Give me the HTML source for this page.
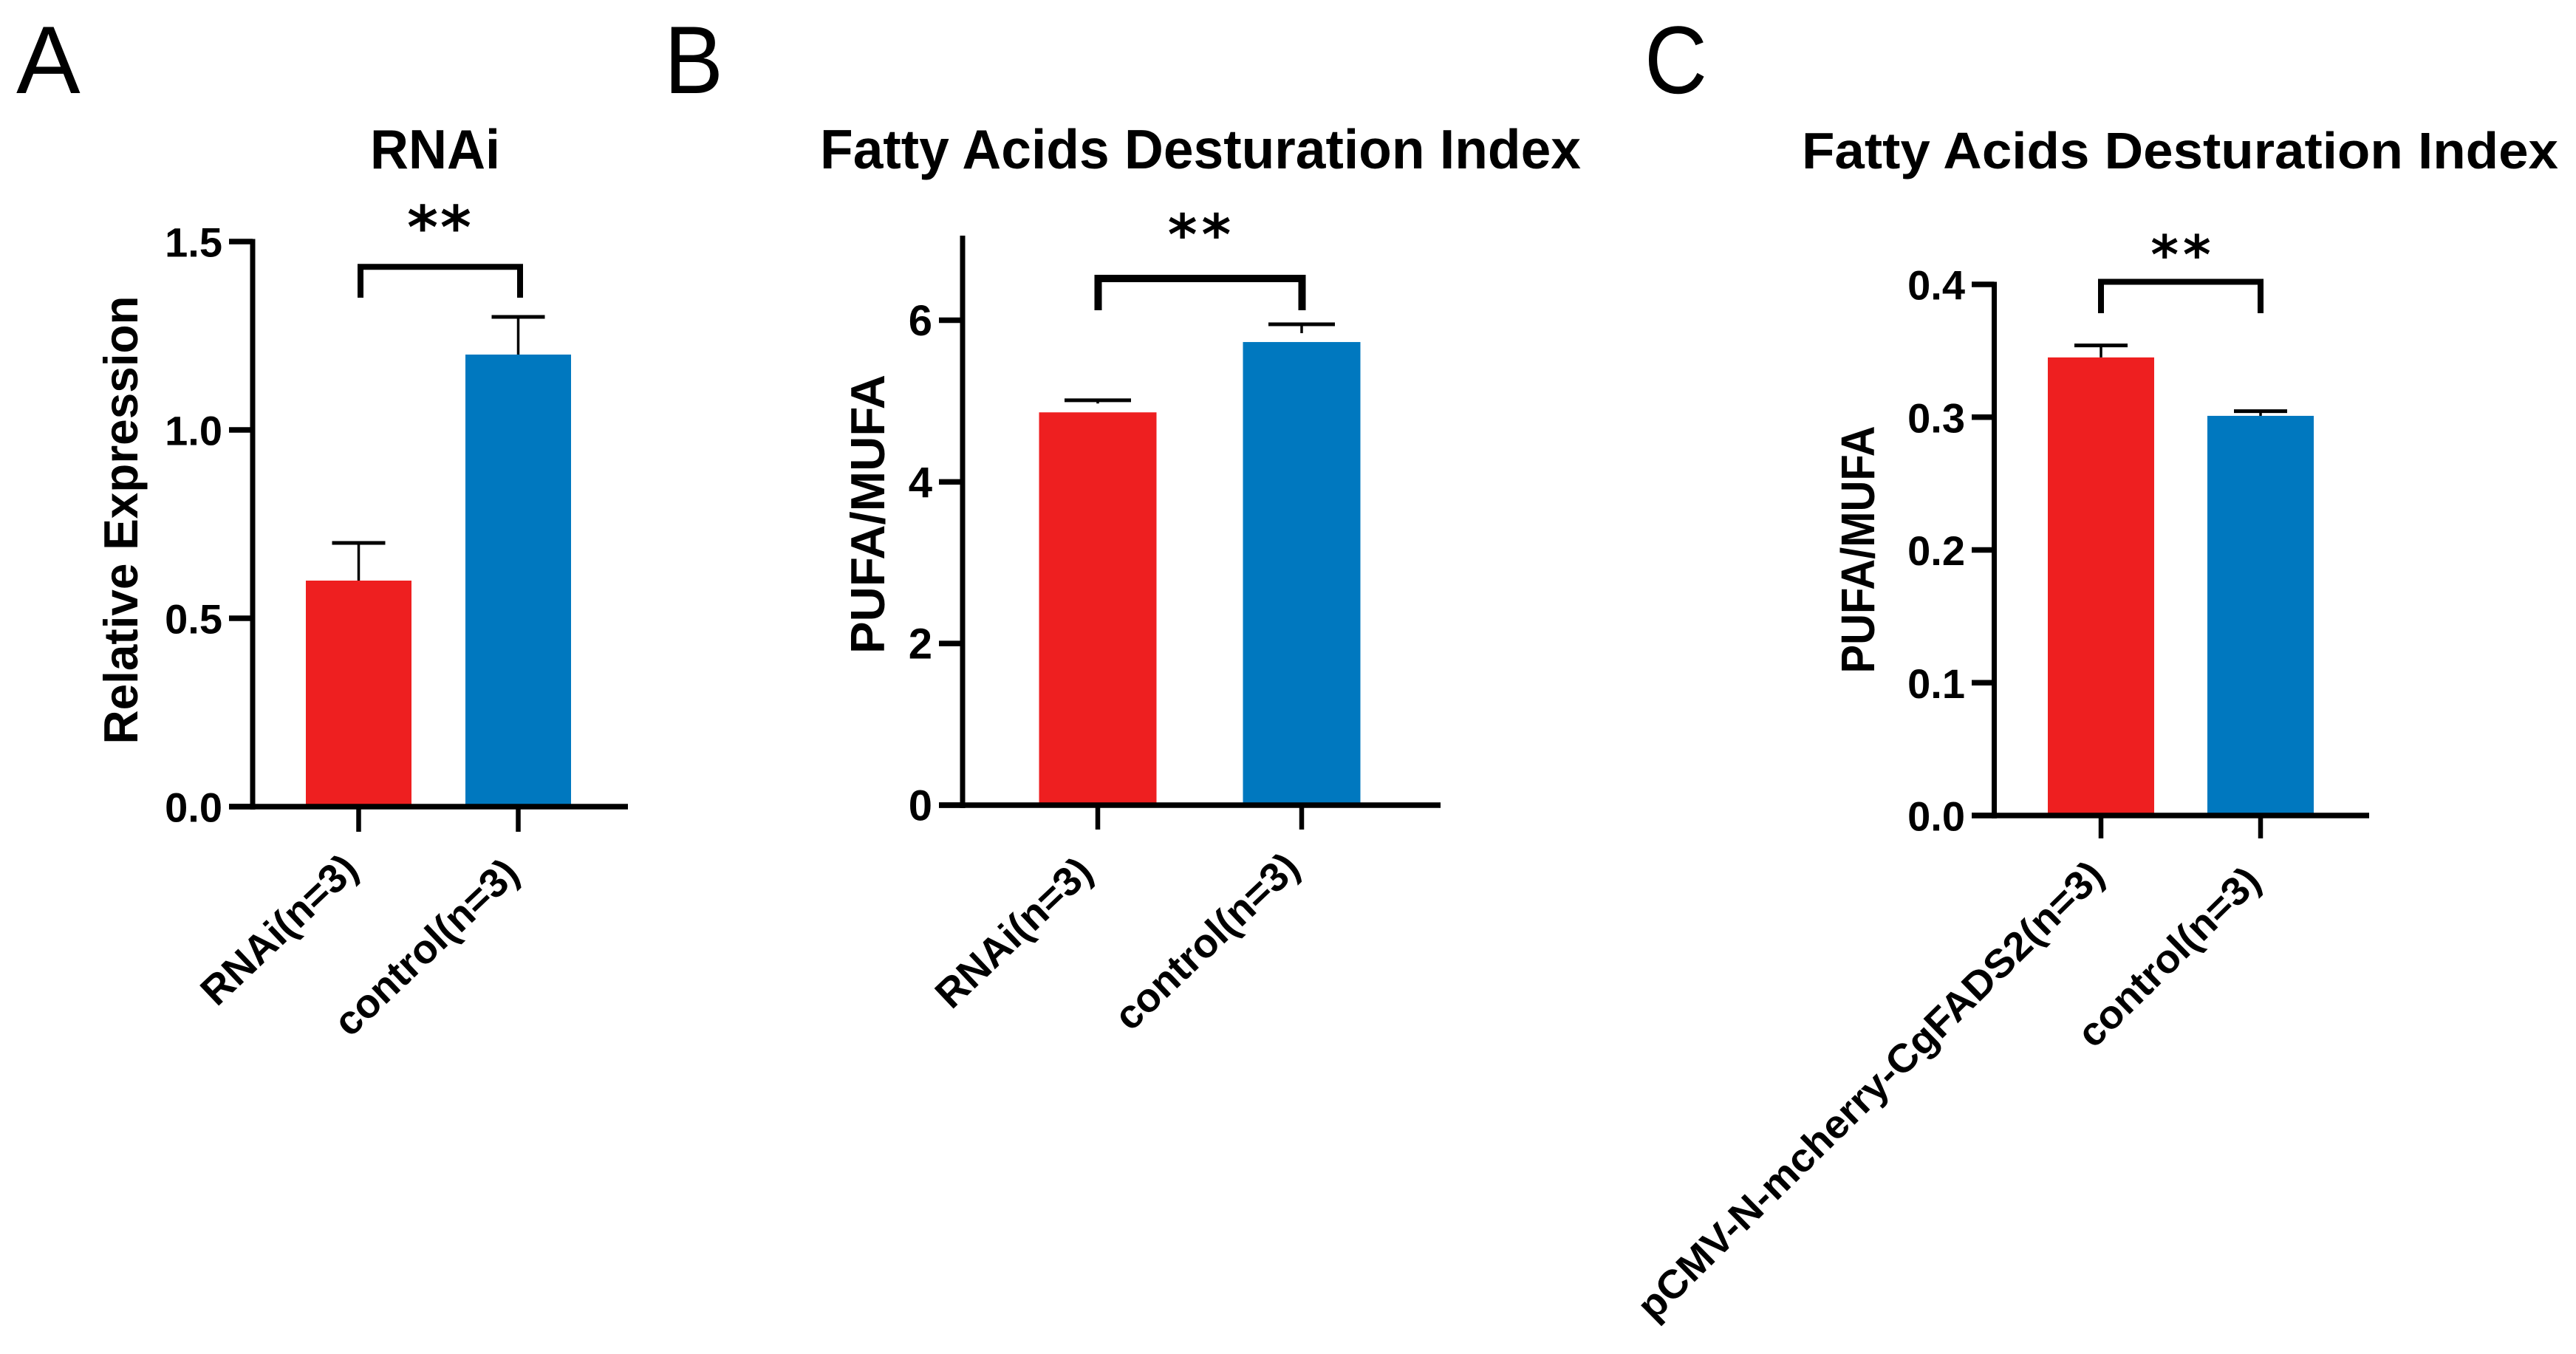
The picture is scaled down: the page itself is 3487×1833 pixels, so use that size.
<!DOCTYPE html>
<html lang="en">
<head>
<meta charset="utf-8">
<title>Fatty acid desaturation panels</title>
<style>
html,body{margin:0;padding:0;background:#fff;width:3487px;height:1833px;overflow:hidden}
svg{display:block}
text{font-family:"Liberation Sans",Arial,sans-serif;fill:#000}
text.star{font-family:"DejaVu Sans",sans-serif}
</style>
</head>
<body>
<svg id="figure" xmlns="http://www.w3.org/2000/svg" width="3487" height="1833" viewBox="0 0 3487 1833">
  <rect width="3487" height="1833" fill="#fff"/>
  <text x="22" y="126" font-size="130">A</text>
  <text x="899" y="126" font-size="130" textLength="80" lengthAdjust="spacingAndGlyphs">B</text>
  <text x="2226" y="126" font-size="130" textLength="85" lengthAdjust="spacingAndGlyphs">C</text>
</svg>
<script>
const panelACategories = ['RNAi(n=3)', 'control(n=3)'];
const panelAValues = [0.6, 1.2];
const panelAErrors = [0.1, 0.1];
const panelATicks = [0, 0.5, 1, 1.5];
const panelATickLabels = ['0.0', '0.5', '1.0', '1.5'];

const panelBCategories = ['RNAi(n=3)', 'control(n=3)'];
const panelBValues = [4.86, 5.73];
const panelBErrors = [0.15, 0.22];
const panelBTicks = [0, 2, 4, 6];
const panelBTickLabels = ['0', '2', '4', '6'];

const panelCCategories = ['pCMV-N-mcherry-CgFADS2(n=3)', 'control(n=3)'];
const panelCValues = [0.345, 0.301];
const panelCErrors = [0.009, 0.0035];
const panelCTicks = [0, 0.1, 0.2, 0.3, 0.4];
const panelCTickLabels = ['0.0', '0.1', '0.2', '0.3', '0.4'];

const barColors = ['#ee1f20', '#0078bf'];
const svgNS = 'http://www.w3.org/2000/svg';
const figure = document.getElementById('figure');

function makeLine(parent, name, x1, y1, x2, y2, width) {
  const el = document.createElementNS(svgNS, 'line');
  
  
  el.setAttribute('x1', x1);
  el.setAttribute('y1', y1);
  el.setAttribute('x2', x2);
  el.setAttribute('y2', y2);
  el.setAttribute('stroke', '#000');
  el.setAttribute('stroke-width', width);
  parent.appendChild(el);
  return el;
}

function makeText(parent, name, str, x, y, size, weight, anchor, rotate, len) {
  const el = document.createElementNS(svgNS, 'text');
  
  
  el.setAttribute('x', x);
  el.setAttribute('y', y);
  el.setAttribute('font-size', size);
  el.setAttribute('font-weight', weight);
  el.setAttribute('text-anchor', anchor);
  if (rotate) el.setAttribute('transform', 'rotate(' + rotate + ' ' + x + ' ' + y + ')');
  if (len) {
    el.setAttribute('textLength', len);
    el.setAttribute('lengthAdjust', 'spacingAndGlyphs');
  }
  el.textContent = str;
  parent.appendChild(el);
  return el;
}

function drawPanel(prefix, categories, values, errors, ticks, tickLabels, view) {
  const g = document.createElementNS(svgNS, 'g');
  
  
  figure.appendChild(g);

  const topTick = ticks[ticks.length - 1];
  const yScale = function (v) { return view.yZero - v * (view.yZero - view.yTopTick) / topTick; };
  const xScale = function (i) { return view.xFirst + i * view.xStep; };

  values.forEach(function (v, i) {
    const bar = document.createElementNS(svgNS, 'rect');
    
    
    bar.setAttribute('x', xScale(i) - view.barWidth / 2);
    bar.setAttribute('y', yScale(v));
    bar.setAttribute('width', view.barWidth);
    bar.setAttribute('height', view.yZero - yScale(v));
    bar.setAttribute('fill', barColors[i]);
    g.appendChild(bar);

    const capY = yScale(v + errors[i]);
    makeLine(g, prefix + '-error-cap-' + (i + 1), xScale(i) - view.capWidth / 2, capY, xScale(i) + view.capWidth / 2, capY, 5);
    makeLine(g, prefix + '-error-stem-' + (i + 1), xScale(i), capY, xScale(i), yScale(v) - view.stemGap, 3.5);
  });

  makeLine(g, prefix + '-y-axis', view.xAxis, view.yAxisTop, view.xAxis, view.yZero + 4, 7);
  makeLine(g, prefix + '-x-axis', view.xTickLeft, view.yZero, view.xRight, view.yZero, 7.5);

  ticks.forEach(function (t, i) {
    const y = yScale(t);
    makeLine(g, prefix + '-y-tick-' + tickLabels[i], view.xTickLeft, y, view.xAxis, y, 7.5);
    makeText(g, prefix + '-y-tick-label-' + tickLabels[i], tickLabels[i], view.xTickText, y + 20.5, view.tickFont, 'bold', 'end');
  });

  categories.forEach(function (c, i) {
    makeLine(g, prefix + '-x-tick-' + (i + 1), xScale(i), view.yZero, xScale(i), view.xTickBottom, 6.5);
    makeText(g, prefix + '-x-label-' + (i + 1), c, xScale(i) + view.labelDx + i * view.labelXStep, view.labelY + i * view.labelYStep, view.labelFont, 'bold', 'end', -view.labelAngle, view.labelLens[i]);
  });

  const br = document.createElementNS(svgNS, 'polyline');
  
  
  const bx0 = xScale(0) + view.bracketShift;
  const bx1 = xScale(1) + view.bracketShift;
  br.setAttribute('points', bx0 + ',' + view.bracketBottom + ' ' + bx0 + ',' + view.bracketY + ' ' + bx1 + ',' + view.bracketY + ' ' + bx1 + ',' + view.bracketBottom);
  br.setAttribute('fill', 'none');
  br.setAttribute('stroke', '#000');
  br.setAttribute('stroke-width', view.bracketWidth);
  g.appendChild(br);

  const stars = makeText(g, prefix + '-significance-stars', '**', (bx0 + bx1) / 2 + view.starDx, view.starY, view.starFont, 'bold', 'middle');
  stars.setAttribute('class', 'star');
  stars.setAttribute('letter-spacing', view.starSpacing);
  makeText(g, prefix + '-title', view.title, view.titleX, 228, view.titleFont, 'bold', 'start', 0, view.titleLen);
  makeText(g, prefix + '-y-axis-title', view.yTitle, view.yTitleX, view.yTitleY, view.yTitleFont, 'bold', 'middle', -90, view.yTitleLen);
}

drawPanel('panel-a', panelACategories, panelAValues, panelAErrors, panelATicks, panelATickLabels, {
  yZero: 1092, yTopTick: 327, yAxisTop: 323.5, xAxis: 342, xTickLeft: 310, xRight: 850, xTickText: 301, tickFont: 56,
  xFirst: 485.5, xStep: 216, barWidth: 143, capWidth: 72, stemGap: 0, xTickBottom: 1126,
  labelDx: 2, labelXStep: 2, labelY: 1180, labelYStep: 6, labelFont: 55, labelAngle: 43.5, labelLens: [0, 0],
  bracketShift: 2.5, bracketY: 361.3, bracketBottom: 403, bracketWidth: 8,
  starDx: 0, starY: 336, starFont: 80, starSpacing: 3,
  title: 'RNAi', titleX: 501, titleLen: 176, titleFont: 75,
  yTitle: 'Relative Expression', yTitleX: 186, yTitleY: 704, yTitleFont: 65, yTitleLen: 607
});

drawPanel('panel-b', panelBCategories, panelBValues, panelBErrors, panelBTicks, panelBTickLabels, {
  yZero: 1090, yTopTick: 433.5, yAxisTop: 319, xAxis: 1303, xTickLeft: 1271, xRight: 1950, xTickText: 1262, tickFont: 58,
  xFirst: 1486, xStep: 276, barWidth: 159, capWidth: 90, stemGap: 12, xTickBottom: 1123,
  labelDx: -4, labelXStep: 4, labelY: 1184, labelYStep: -6, labelFont: 55, labelAngle: 43.5, labelLens: [0, 0],
  bracketShift: 0.5, bracketY: 377, bracketBottom: 420, bracketWidth: 10,
  starDx: 2, starY: 344, starFont: 76, starSpacing: 6,
  title: 'Fatty Acids Desturation Index', titleX: 1110, titleLen: 1030, titleFont: 75,
  yTitle: 'PUFA/MUFA', yTitleX: 1197, yTitleY: 696, yTitleFont: 65, yTitleLen: 378
});

drawPanel('panel-c', panelCCategories, panelCValues, panelCErrors, panelCTicks, panelCTickLabels, {
  yZero: 1104, yTopTick: 385, yAxisTop: 381.5, xAxis: 2699.5, xTickLeft: 2669, xRight: 3207, xTickText: 2660, tickFont: 56,
  xFirst: 2844, xStep: 216, barWidth: 144, capWidth: 72, stemGap: 0, xTickBottom: 1135,
  labelDx: 7, labelXStep: -4, labelY: 1188, labelYStep: 8, labelFont: 54, labelAngle: 44.5, labelLens: [859, 321],
  bracketShift: 0, bracketY: 381.5, bracketBottom: 424, bracketWidth: 8,
  starDx: 3, starY: 370, starFont: 72, starSpacing: 6,
  title: 'Fatty Acids Desturation Index', titleX: 2439, titleLen: 1024, titleFont: 70,
  yTitle: 'PUFA/MUFA', yTitleX: 2537, yTitleY: 744, yTitleFont: 64, yTitleLen: 335
});
</script>
</body>
</html>
